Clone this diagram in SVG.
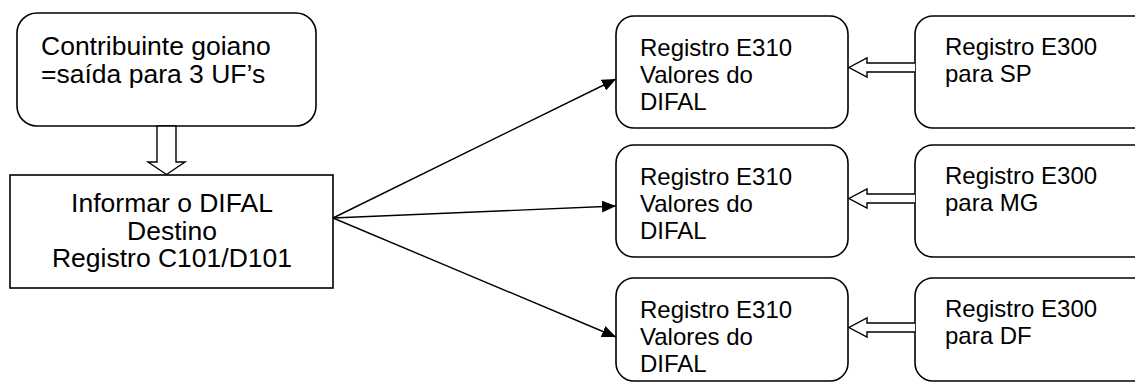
<svg xmlns="http://www.w3.org/2000/svg" width="1135" height="383" viewBox="0 0 1135 383">
<style>
.box{fill:#fff;stroke:#000;stroke-width:1.6}
.blk{fill:#fff;stroke:#000;stroke-width:1.4;stroke-linejoin:miter}
.t1{font-family:"Liberation Sans",Arial,sans-serif;font-size:26.5px;fill:#000}
.t2{font-family:"Liberation Sans",Arial,sans-serif;font-size:24px;fill:#000}
.ln{stroke:#000;stroke-width:1.4;fill:none}
</style>
<defs>
<marker id="ah" viewBox="0 0 14 12" refX="14" refY="6" markerWidth="14" markerHeight="12" markerUnits="userSpaceOnUse" orient="auto">
<path d="M0,0 L14,6 L0,12 Z" fill="#000"/>
</marker>
</defs>
<g id="contribuinte">
<rect class="box" x="17" y="13" width="299" height="113" rx="20" ry="20"/>
<text class="t1" x="41" y="55">Contribuinte goiano</text>
<text class="t1" x="41" y="83">=saída para 3 UF’s</text>
</g>
<g id="informar">
<rect class="box" x="10" y="175" width="323" height="113"/>
<text class="t1" x="172" y="212" text-anchor="middle">Informar o DIFAL</text>
<text class="t1" x="172" y="240" text-anchor="middle">Destino</text>
<text class="t1" x="172" y="267" text-anchor="middle">Registro C101/D101</text>
</g>
<g id="e310-sp">
<rect class="box" x="616" y="16" width="232" height="112" rx="18" ry="18"/>
<text class="t2" x="640" y="56">Registro E310</text>
<text class="t2" x="640" y="83">Valores do</text>
<text class="t2" x="640" y="110">DIFAL</text>
</g>
<g id="e310-mg">
<rect class="box" x="616" y="145" width="232" height="112" rx="18" ry="18"/>
<text class="t2" x="640" y="185">Registro E310</text>
<text class="t2" x="640" y="212">Valores do</text>
<text class="t2" x="640" y="239">DIFAL</text>
</g>
<g id="e310-df">
<rect class="box" x="616" y="278" width="232" height="103" rx="18" ry="18"/>
<text class="t2" x="640" y="318">Registro E310</text>
<text class="t2" x="640" y="345">Valores do</text>
<text class="t2" x="640" y="372">DIFAL</text>
</g>
<g id="e300-sp">
<rect class="box" x="915" y="16" width="240" height="112" rx="18" ry="18"/>
<text class="t2" x="945" y="55">Registro E300</text>
<text class="t2" x="945" y="82">para SP</text>
</g>
<g id="e300-mg">
<rect class="box" x="915" y="145" width="240" height="112" rx="18" ry="18"/>
<text class="t2" x="945" y="184">Registro E300</text>
<text class="t2" x="945" y="211">para MG</text>
</g>
<g id="e300-df">
<rect class="box" x="915" y="278" width="240" height="103" rx="18" ry="18"/>
<text class="t2" x="945" y="317">Registro E300</text>
<text class="t2" x="945" y="344">para DF</text>
</g>
<g id="connectors">
<path class="blk" d="M157,126 L176,126 L176,162 L185,162 L166.5,174.5 L148,162 L157,162 Z"/>
<path class="blk" d="M915,63 L867,63 L867,58 L849,67.5 L867,77 L867,72 L915,72"/>
<path class="blk" d="M915,194 L867,194 L867,189 L849,198.5 L867,208 L867,203 L915,203"/>
<path class="blk" d="M915,323 L867,323 L867,318 L849,327.5 L867,337 L867,332 L915,332"/>
<line class="ln" x1="333" y1="218" x2="616" y2="79" marker-end="url(#ah)"/>
<line class="ln" x1="333" y1="218" x2="616" y2="206" marker-end="url(#ah)"/>
<line class="ln" x1="333" y1="218" x2="616" y2="337" marker-end="url(#ah)"/>
</g>
</svg>
